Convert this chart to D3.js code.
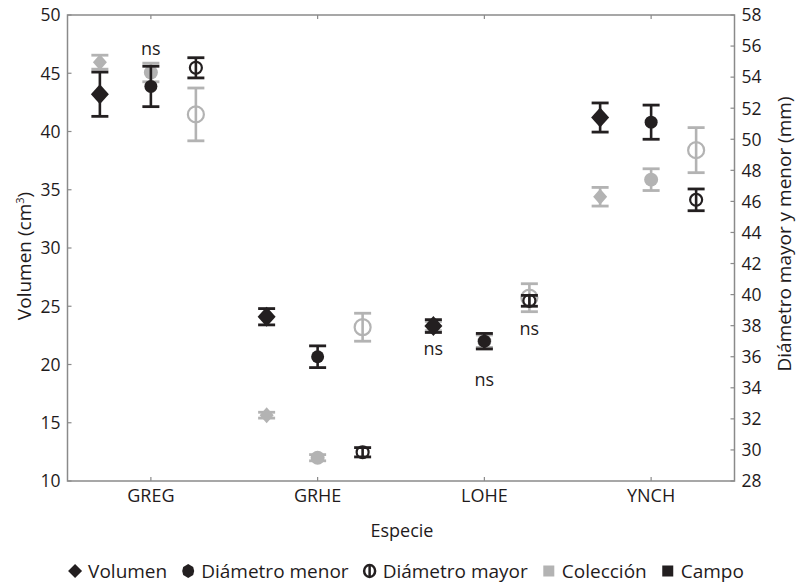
<!DOCTYPE html>
<html>
<head>
<meta charset="utf-8">
<script src="https://cdn.jsdelivr.net/npm/d3@7"></script>
<style>
  body { margin: 0; background: #fff; }
  text { font-family: "Open Sans", sans-serif; fill: #1f1b1c; }
</style>
</head>
<body>
<svg id="chart"></svg>
<script>
const width = 797, height = 584;

// categories and series
const categories = ["GREG", "GRHE", "LOHE", "YNCH"];
const measures = ["Volumen", "Diámetro menor", "Diámetro mayor"];
const sources = ["Colección", "Campo"];

// means and error half-widths (volumen on left axis, diametros on right axis)
const volumenColeccion = [45.95, 15.65, 23.3, 34.4];
const volumenColeccionErr = [0.6, 0.25, 0.4, 0.8];
const volumenCampo = [43.2, 24.1, 23.3, 41.2];
const volumenCampoErr = [1.9, 0.7, 0.55, 1.25];
const menorColeccion = [54.3, 29.5, 37.0, 47.4];
const menorColeccionErr = [0.6, 0.2, 0.4, 0.7];
const menorCampo = [53.4, 36.0, 37.0, 51.1];
const menorCampoErr = [1.3, 0.7, 0.5, 1.1];
const mayorColeccion = [51.6, 37.9, 39.8, 49.3];
const mayorColeccionErr = [1.7, 0.9, 0.9, 1.45];
const mayorCampo = [54.6, 29.85, 39.6, 46.1];
const mayorCampoErr = [0.65, 0.3, 0.35, 0.7];

// "ns" annotations: category, measure, value on that measure's axis (baseline)
const nsLabels = [
  ["GREG", "Diámetro menor", 55.4],
  ["LOHE", "Volumen", 20.8],
  ["LOHE", "Diámetro menor", 34.1],
  ["LOHE", "Diámetro mayor", 37.4]
];

const leftTicks = [10, 15, 20, 25, 30, 35, 40, 45, 50];
const rightTicks = [28, 30, 32, 34, 36, 38, 40, 42, 44, 46, 48, 50, 52, 54, 56, 58];

const colors = { "Colección": "#b3b3b3", "Campo": "#231f20" };
const axisColor = "#8a8a8a";

const plot = { left: 67.5, right: 734.5, top: 15, bottom: 481 };

const svg = d3.select("#chart").attr("width", width).attr("height", height);

const x = d3.scaleBand().domain(categories).range([plot.left, plot.right]);
const offset = d3.scaleOrdinal().domain(measures).range([-51, 0, 45]);
const yL = d3.scaleLinear().domain([10, 50]).range([plot.bottom, plot.top]);
const yR = d3.scaleLinear().domain([28, 58]).range([plot.bottom, plot.top]);
const yFor = m => m === "Volumen" ? yL : yR;

// rows
const table = {
  "Volumen|Colección": [volumenColeccion, volumenColeccionErr],
  "Volumen|Campo": [volumenCampo, volumenCampoErr],
  "Diámetro menor|Colección": [menorColeccion, menorColeccionErr],
  "Diámetro menor|Campo": [menorCampo, menorCampoErr],
  "Diámetro mayor|Colección": [mayorColeccion, mayorColeccionErr],
  "Diámetro mayor|Campo": [mayorCampo, mayorCampoErr]
};
const rows = [];
sources.forEach(s => {  // coleccion first so campo sits on top
  measures.forEach(m => {
    const [vals, errs] = table[m + "|" + s];
    categories.forEach((c, i) => rows.push({ cat: c, measure: m, source: s, v: vals[i], e: errs[i] }));
  });
});

// frame
svg.append("rect")
  .attr("x", plot.left).attr("y", plot.top)
  .attr("width", plot.right - plot.left).attr("height", plot.bottom - plot.top)
  .attr("fill", "none").attr("stroke", axisColor).attr("stroke-width", 1.5);

// left axis
const gl = svg.append("g");
gl.selectAll("line").data(leftTicks).join("line")
  .attr("x1", plot.left).attr("x2", plot.left + 4)
  .attr("y1", d => yL(d)).attr("y2", d => yL(d))
  .attr("stroke", axisColor).attr("stroke-width", 1.2);
gl.selectAll("text").data(leftTicks).join("text")
  .attr("x", plot.left - 7).attr("y", d => yL(d)).attr("dy", "0.36em")
  .attr("text-anchor", "end").attr("font-size", 17.5).text(d => d);

// right axis
const gr = svg.append("g");
gr.selectAll("line").data(rightTicks).join("line")
  .attr("x1", plot.right - 4).attr("x2", plot.right)
  .attr("y1", d => yR(d)).attr("y2", d => yR(d))
  .attr("stroke", axisColor).attr("stroke-width", 1.2);
gr.selectAll("text").data(rightTicks).join("text")
  .attr("x", plot.right + 7).attr("y", d => yR(d)).attr("dy", "0.36em")
  .attr("text-anchor", "start").attr("font-size", 17.5).text(d => d);

// category ticks (bottom and top)
const cx = c => x(c) + x.bandwidth() / 2;
svg.append("g").selectAll("line").data(categories).join("line")
  .attr("x1", cx).attr("x2", cx).attr("y1", plot.bottom).attr("y2", plot.bottom - 4)
  .attr("stroke", axisColor).attr("stroke-width", 1.2);
svg.append("g").selectAll("line").data(categories).join("line")
  .attr("x1", cx).attr("x2", cx).attr("y1", plot.top).attr("y2", plot.top + 4)
  .attr("stroke", axisColor).attr("stroke-width", 1.2);
svg.append("g").selectAll("text").data(categories).join("text")
  .attr("x", cx).attr("y", 502).attr("text-anchor", "middle")
  .attr("font-size", 18).text(d => d);

// titles
svg.append("text").attr("x", 402).attr("y", 537).attr("text-anchor", "middle")
  .attr("font-size", 18).text("Especie");
svg.append("text")
  .attr("transform", `translate(31,${(plot.top + plot.bottom) / 2 + 8}) rotate(-90)`)
  .attr("text-anchor", "middle").attr("font-size", 19)
  .html('Volumen (cm<tspan dy="-7" font-size="11">3</tspan><tspan dy="7">)</tspan>');
svg.append("text")
  .attr("transform", `translate(791,234) rotate(-90)`)
  .attr("text-anchor", "middle").attr("font-size", 19)
  .text("Diámetro mayor y menor (mm)");

// markers
function drawMarker(g, measure, source, color) {
  if (measure === "Volumen") {
    const s = source === "Campo" ? 9 : 7;
    g.append("path").attr("d", `M0,${-s - 1}L${s},0L0,${s + 1}L${-s},0Z`).attr("fill", color);
  } else if (measure === "Diámetro menor") {
    g.append("circle").attr("r", source === "Campo" ? 6.5 : 7).attr("fill", color);
  } else {
    g.append("circle").attr("r", source === "Campo" ? 6 : 8)
      .attr("fill", "none").attr("stroke", color).attr("stroke-width", 2.2);
  }
}

const pts = svg.append("g").selectAll("g").data(rows).join("g")
  .attr("transform", d => `translate(${cx(d.cat) + offset(d.measure)},0)`);
pts.each(function (d) {
  const g = d3.select(this);
  const y = yFor(d.measure);
  const color = colors[d.source];
  const y1 = y(d.v + d.e), y2 = y(d.v - d.e);
  g.append("line").attr("x1", 0).attr("x2", 0).attr("y1", y1).attr("y2", y2)
    .attr("stroke", color).attr("stroke-width", 2.6);
  [y1, y2].forEach(yy => g.append("line").attr("x1", -8.5).attr("x2", 8.5)
    .attr("y1", yy).attr("y2", yy).attr("stroke", color).attr("stroke-width", 2.8));
  const m = g.append("g").attr("transform", `translate(0,${y(d.v)})`);
  drawMarker(m, d.measure, d.source, color);
});

// ns labels
svg.append("g").selectAll("text").data(nsLabels).join("text")
  .attr("x", d => cx(d[0]) + offset(d[1]))
  .attr("y", d => yFor(d[1])(d[2]))
  .attr("text-anchor", "middle").attr("font-size", 18).text("ns");

// legend
const legendItems = [
  { label: "Volumen", kind: "Volumen" },
  { label: "Diámetro menor", kind: "Diámetro menor" },
  { label: "Diámetro mayor", kind: "Diámetro mayor" },
  { label: "Colección", kind: "Colección" },
  { label: "Campo", kind: "Campo" }
];
const legend = svg.append("g");
let lx = 0;
const ly = 571;
legendItems.forEach(it => {
  const g = legend.append("g").attr("transform", `translate(${lx},${ly})`);
  const k = g.append("g").attr("transform", "translate(7,0)");
  if (it.kind === "Volumen") {
    k.append("path").attr("d", "M0,-7L7,0L0,7L-7,0Z").attr("fill", "#231f20");
  } else if (it.kind === "Diámetro menor") {
    k.append("path").attr("d", "M0,-7L5,-4L6,0L5,4L0,7L-5,4L-6,0L-5,-4Z").attr("fill", "#231f20");
  } else if (it.kind === "Diámetro mayor") {
    k.append("ellipse").attr("rx", 5.5).attr("ry", 6).attr("fill", "none")
      .attr("stroke", "#231f20").attr("stroke-width", 2.5);
    k.append("line").attr("y1", -6).attr("y2", 6).attr("stroke", "#231f20").attr("stroke-width", 2.5);
  } else {
    k.append("rect").attr("x", -5.5).attr("y", -5.5).attr("width", 11).attr("height", 11)
      .attr("fill", colors[it.kind]);
  }
  const t = g.append("text").attr("x", 20).attr("y", 0).attr("dy", "0.35em")
    .attr("font-size", 19).text(it.label);
  lx += 20 + t.node().getComputedTextLength() + 14;
});
const lw = lx - 14;
legend.attr("transform", `translate(${406 - lw / 2},0)`);
</script>
</body>
</html>
